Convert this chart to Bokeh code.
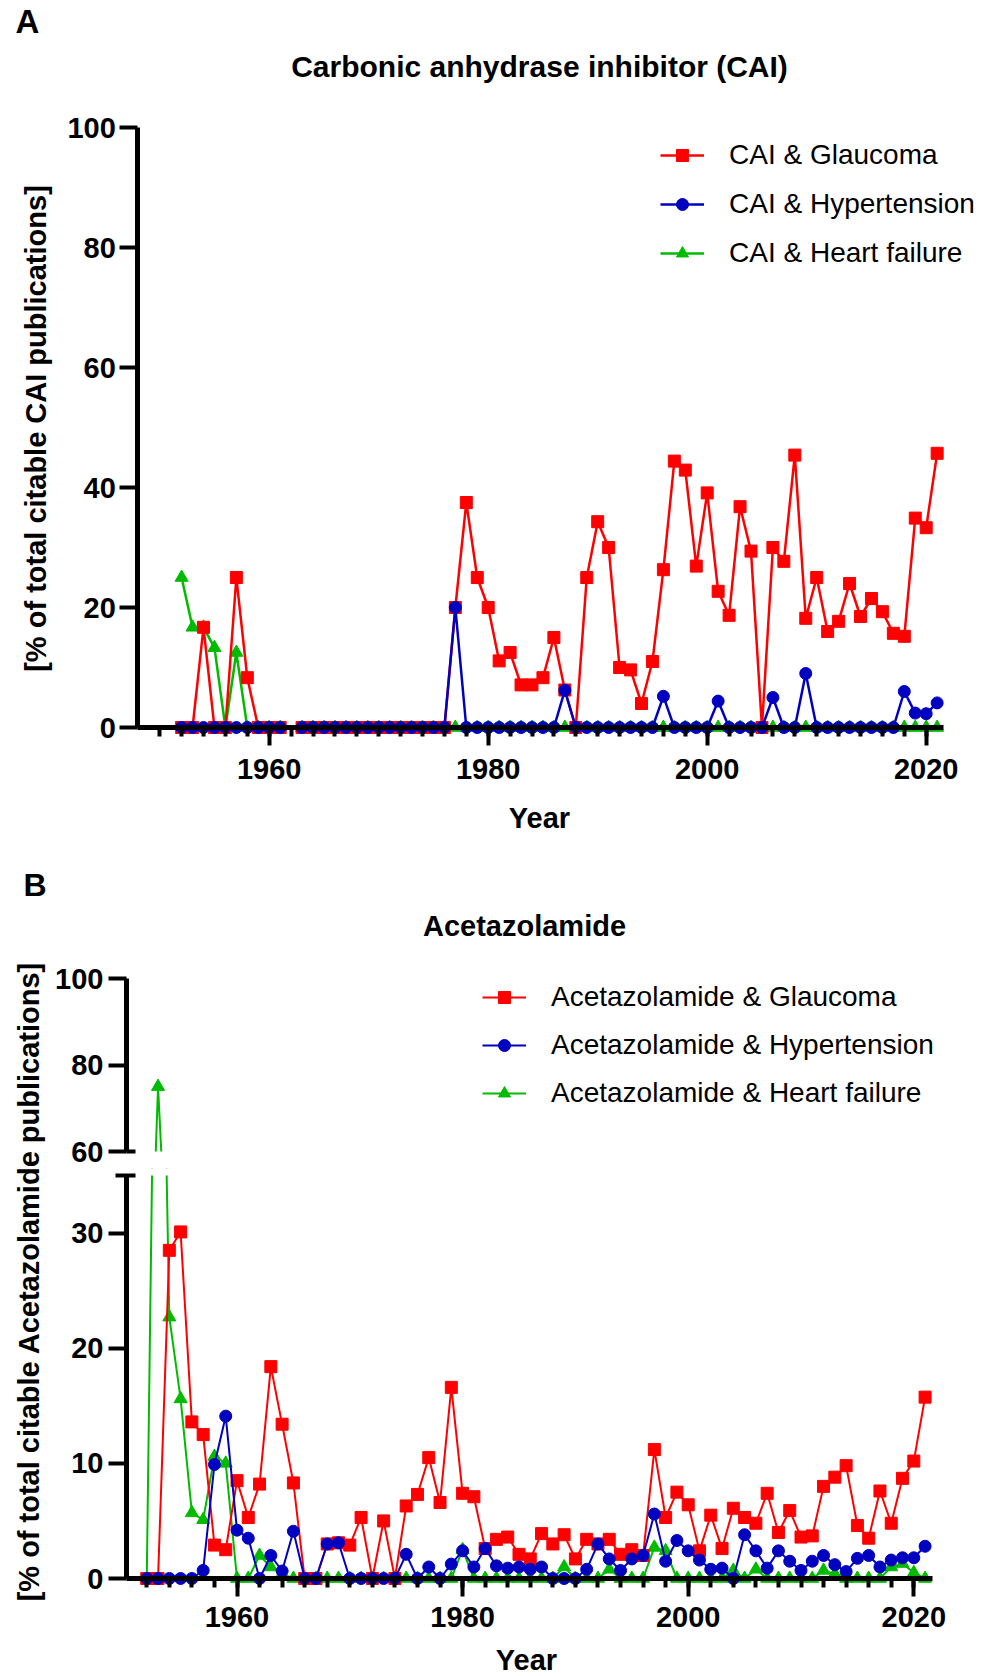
import math
from bokeh.plotting import figure
from bokeh.models import (FixedTicker, Legend, LegendItem, Label, Range1d,
                          ColumnDataSource, BoxAnnotation)
from bokeh.layouts import column, row
from bokeh.embed import file_html
from bokeh.resources import INLINE

NaN = float("nan")
years = list(range(1952, 2022))

# ---------------- Panel A: CAI ----------------
cai_glaucoma = [0, 0, 16.7, 0, 0, 25, 8.3, 0, 0, 0, NaN,
                0, 0, 0, 0, 0, 0, 0, 0, 0, 0, 0, 0, 0, 0,
                20, 37.5, 25, 20, 11.1, 12.5, 7.1, 7.1, 8.3, 15, 6.25, 0,
                25, 34.3, 30, 10, 9.6, 4, 11, 26.3, 44.4, 42.9, 26.9, 39.1,
                22.7, 18.7, 36.8, 29.4, 0, 30, 27.7, 45.4, 18.2, 25, 16, 17.7,
                24, 18.5, 21.5, 19.3, 15.7, 15.2, 34.9, 33.3, 45.7]
cai_hypertension = [0, 0, 0, 0, 0, 0, 0, 0, 0, 0, NaN,
                    0, 0, 0, 0, 0, 0, 0, 0, 0, 0, 0, 0, 0, 0,
                    20, 0, 0, 0, 0, 0, 0, 0, 0, 0, 6.2, 0,
                    0, 0, 0, 0, 0, 0, 0, 5.2, 0, 0, 0, 0,
                    4.4, 0, 0, 0, 0, 5, 0, 0, 9.0, 0, 0, 0,
                    0, 0, 0, 0, 0, 6, 2.4, 2.3, 4.1]
cai_heart = [25, 16.7, 16.7, 13.3, 0, 12.5, 0, 0, 0, 0, NaN,
             0, 0, 0, 0, 0, 0, 0, 0, 0, 0, 0, 0, 0, 0,
             0, 0, 0, 0, 0, 0, 0, 0, 0, 0, 0, 0,
             0, 0, 0, 0, 0, 0, 0, 0, 0, 0, 0, 0,
             0, 0, 0, 0, 0, 0, 0, 0, 0, 0, 0, 0,
             0, 0, 0, 0, 0, 0, 0, 0, 0]

# ---------------- Panel B: Acetazolamide ----------------
acz_glaucoma = [0, 0, 28.5, 30.1, 13.6, 12.5, 2.9, 2.5, 8.5, 5.3,
                8.2, 18.4, 13.4, 8.3, 0, 0, 3.0, 3.1, 2.9, 5.3,
                0, 5.0, 0, 6.3, 7.3, 10.5, 6.6, 16.6, 7.4, 7.1,
                2.6, 3.4, 3.6, 2.1, 1.7, 3.9, 3.0, 3.8, 1.7, 3.4,
                3.0, 3.4, 2.1, 2.5, 2.0, 11.2, 5.3, 7.5, 6.4, 2.4,
                5.5, 2.6, 6.1, 5.3, 4.8, 7.4, 4.0, 5.9, 3.6, 3.7,
                8.0, 8.8, 9.8, 4.6, 3.5, 7.6, 4.8, 8.7, 10.2, 15.75]
acz_hypertension = [0, 0, 0, 0, 0, 0.7, 9.9, 14.1, 4.2, 3.5,
                    0, 2.0, 0.65, 4.1, 0, 0, 3.0, 3.1, 0, 0,
                    0, 0, 0, 2.1, 0, 1.0, 0, 1.25, 2.4, 1.0,
                    2.6, 1.1, 0.9, 1.0, 0.8, 1.0, 0, 0, 0, 0.8,
                    3.0, 1.7, 0.7, 1.7, 2.0, 5.6, 1.5, 3.3, 2.4, 1.6,
                    0.8, 0.9, 0, 3.8, 2.4, 0.9, 2.4, 1.5, 0.7, 1.5,
                    2.0, 1.2, 0.6, 1.75, 2.0, 1.0, 1.6, 1.8, 1.8, 2.8]
acz_heart = [0, 75, 22.7, 15.6, 5.7, 5.1, 10.6, 10.0, 0, 0,
             2.0, 1.0, 0.4, 0, 0, 0, 0, 0, 0, 0,
             0, 0, 0, 0, 0, 0, 0, 0, 2.5, 0,
             0, 0, 0, 0, 0, 0, 0, 1.0, 0, 0,
             0, 0.8, 0, 0, 0, 2.7, 2.4, 0, 0, 0,
             0, 0, 0.7, 0, 0.8, 0, 0, 0, 0, 0,
             0.7, 0.4, 0, 0, 0, 0, 1.0, 1.3, 0.5, 0]

x_major = [1960, 1980, 2000, 2020]
yA_ticks = [0, 20, 40, 60, 80, 100]
yB_top_ticks = [60, 80, 100]
yB_bot_ticks = [0, 10, 20, 30]

FONT = "Liberation Sans"
RED = "#FF0000"
BLUE = "#0000C0"
GREEN = "#00BB00"

# ---- layout constants (page pixels) ----
W = 984
HA = 850            # bottom of panel A canvas
STRIP = 50          # width of strip holding panel B's y label
B1_BOT = 1168       # bottom of upper B canvas / top of lower B canvas
PAGE_BOT = 1674     # bottom of the whole layout

# panel A scale
A_PPX, A_X1960 = 10.95, 268.7
A_PPY, A_Y0 = 6.0, 727.0
# panel B scale
B_PPX, B_X1960 = 11.28, 236.5
B1_Y60, B1_PPY = 1151.0, 173.0 / 40.0
B2_Y0, B2_PPY = 1578.0, 403.0 / 35.0


def style_axis(ax, major_out, minor_out=0, minor_in=0, standoff=4):
    ax.axis_line_width = 5
    ax.axis_line_color = "black"
    ax.major_tick_line_width = 4
    ax.major_tick_line_color = "black"
    ax.major_tick_out = major_out
    ax.major_tick_in = 0
    ax.minor_tick_line_width = 4
    ax.minor_tick_line_color = "black"
    ax.minor_tick_out = minor_out
    ax.minor_tick_in = minor_in
    ax.major_label_text_font = FONT
    ax.major_label_text_font_style = "bold"
    ax.major_label_text_font_size = "29px"
    ax.major_label_text_color = "black"
    ax.major_label_standoff = standoff


def add_series(p, y, color, marker, size, lw, level="glyph"):
    src = ColumnDataSource(dict(x=years, y=y))
    ln = p.line("x", "y", source=src, line_color=color, line_width=lw, level=level)
    sc = p.scatter("x", "y", source=src, marker=marker, size=size,
                   fill_color=color, line_color=color, level=level)
    return [ln, sc]


def make_legend(items, loc, spacing):
    return Legend(items=items, location=loc, orientation="vertical",
                  glyph_width=44, glyph_height=30, label_height=30,
                  label_standoff=25, spacing=spacing, padding=0, margin=0,
                  border_line_color=None, background_fill_alpha=0,
                  label_text_font=FONT, label_text_font_size="28px",
                  label_text_color="black")


def text_label(p, x, y, txt, size, align="left", bold=True, angle=0):
    p.add_layout(Label(x=x, y=y, x_units="screen", y_units="screen", text=txt,
                       text_font=FONT, text_font_size=size,
                       text_font_style="bold" if bold else "normal",
                       text_align=align, text_baseline="middle", angle=angle,
                       text_color="black"))


def bare_figure(w, h, xr, yr, **kw):
    p = figure(width=w, height=h, x_range=xr, y_range=yr, output_backend="svg",
               toolbar_location=None, min_border_left=0, min_border_right=0,
               min_border_top=0, min_border_bottom=0, outline_line_color=None, **kw)
    p.grid.visible = False
    return p


# ---------------- Figure A (frame = whole canvas) ----------------
ax0 = 1960 - A_X1960 / A_PPX
xA = Range1d(ax0, ax0 + W / A_PPX)
yA = Range1d(-(HA - A_Y0) / A_PPY, A_Y0 / A_PPY)
pA = bare_figure(W, HA, xA, yA)

xa = pA.xaxis[0]
xa.ticker = FixedTicker(ticks=x_major, minor_ticks=list(range(1950, 2021, 2)))
xa.fixed_location = 0
xa.bounds = (1948, 2021.6)
style_axis(xa, 18, minor_out=9, standoff=13)

ya = pA.yaxis[0]
ya.ticker = FixedTicker(ticks=yA_ticks)
ya.fixed_location = 1948
ya.bounds = (0, 100)
style_axis(ya, 18, standoff=4)

gA = add_series(pA, cai_heart, GREEN, "triangle", 13, 2.5)
rA = add_series(pA, cai_glaucoma, RED, "square", 12, 2.5)
bA = add_series(pA, cai_hypertension, BLUE, "circle", 12, 2.5)

pA.add_layout(make_legend([
    LegendItem(label="CAI & Glaucoma", renderers=rA),
    LegendItem(label="CAI & Hypertension", renderers=bA),
    LegendItem(label="CAI & Heart failure", renderers=gA)], (660, HA - 269), 17))

text_label(pA, 15, HA - 21, "A", "33px")
text_label(pA, 539, HA - 66, "Carbonic anhydrase inhibitor (CAI)", "30px", align="center")
text_label(pA, 539, HA - 817, "Year", "29px", align="center")
text_label(pA, 35, HA - 428, "[% of total citable CAI publications]", "29px",
           align="center", angle=math.pi / 2)

# ---------------- Strip with panel B's y label ----------------
HB = PAGE_BOT - HA
pL = bare_figure(STRIP, HB, Range1d(0, 1), Range1d(0, 1),
                 x_axis_location=None, y_axis_location=None)
text_label(pL, 28, PAGE_BOT - 1281, "[% of total citable Acetazolamide publications]",
           "29px", align="center", angle=math.pi / 2)
text_label(pL, 23, PAGE_BOT - 884, "B", "32px")

WB = W - STRIP
bx0 = 1960 - (B_X1960 - STRIP) / B_PPX
xB = Range1d(bx0, bx0 + WB / B_PPX)
B_AXIS_X = 1960 - (B_X1960 - 126) / B_PPX
B_AXIS_END = 1960 + (932 - B_X1960) / B_PPX

# ---------------- Figure B upper (60-100) ----------------
HB1 = B1_BOT - HA
yB1 = Range1d(60 - (B1_BOT - B1_Y60) / B1_PPY, 60 + (B1_Y60 - HA) / B1_PPY)
pB1 = bare_figure(WB, HB1, xB, yB1, x_axis_location=None)
yb1 = pB1.yaxis[0]
yb1.ticker = FixedTicker(ticks=yB_top_ticks, minor_ticks=[60])
yb1.fixed_location = B_AXIS_X
yb1.bounds = (60, 100)
style_axis(yb1, 18, minor_out=0, minor_in=9, standoff=5)

gB1 = add_series(pB1, acz_heart, GREEN, "triangle", 13, 2, level="image")
rB1 = add_series(pB1, acz_glaucoma, RED, "square", 12, 2, level="image")
bB1 = add_series(pB1, acz_hypertension, BLUE, "circle", 12, 2, level="image")
# axis break: hide everything below 60 in the upper part
pB1.add_layout(BoxAnnotation(top=60, bottom=yB1.start - 10, left=xB.start - 5,
                             right=xB.end + 5, fill_color="white", fill_alpha=1,
                             line_alpha=0, level="underlay"))

pB1.add_layout(make_legend([
    LegendItem(label="Acetazolamide & Glaucoma", renderers=rB1),
    LegendItem(label="Acetazolamide & Hypertension", renderers=bB1),
    LegendItem(label="Acetazolamide & Heart failure", renderers=gB1)],
    (482 - STRIP, B1_BOT - 1109), 16))

text_label(pB1, 524 - STRIP, B1_BOT - 925, "Acetazolamide", "29px", align="center")

# ---------------- Figure B lower (0-35) ----------------
HB2 = PAGE_BOT - B1_BOT
yB2 = Range1d(-(PAGE_BOT - B2_Y0) / B2_PPY, (B2_Y0 - B1_BOT) / B2_PPY)
pB2 = bare_figure(WB, HB2, xB, yB2)
xb2 = pB2.xaxis[0]
xb2.ticker = FixedTicker(ticks=x_major, minor_ticks=list(range(1952, 2021, 2)))
xb2.fixed_location = 0
xb2.bounds = (B_AXIS_X, B_AXIS_END)
style_axis(xb2, 18, minor_out=9, standoff=10)
yb2 = pB2.yaxis[0]
yb2.ticker = FixedTicker(ticks=yB_bot_ticks, minor_ticks=[35])
yb2.fixed_location = B_AXIS_X
yb2.bounds = (0, 35)
style_axis(yb2, 18, minor_out=11, minor_in=9, standoff=5)

add_series(pB2, acz_heart, GREEN, "triangle", 13, 2, level="image")
add_series(pB2, acz_glaucoma, RED, "square", 12, 2, level="image")
add_series(pB2, acz_hypertension, BLUE, "circle", 12, 2, level="image")
# axis break: hide everything above 35 in the lower part
pB2.add_layout(BoxAnnotation(bottom=35, top=yB2.end + 10, left=xB.start - 5,
                             right=xB.end + 5, fill_color="white", fill_alpha=1,
                             line_alpha=0, level="underlay"))

text_label(pB2, 526 - STRIP, PAGE_BOT - 1659, "Year", "29px", align="center")

layout = column(pA, row(pL, column(pB1, pB2)))
open("out.html", "w").write(file_html(layout, INLINE))
